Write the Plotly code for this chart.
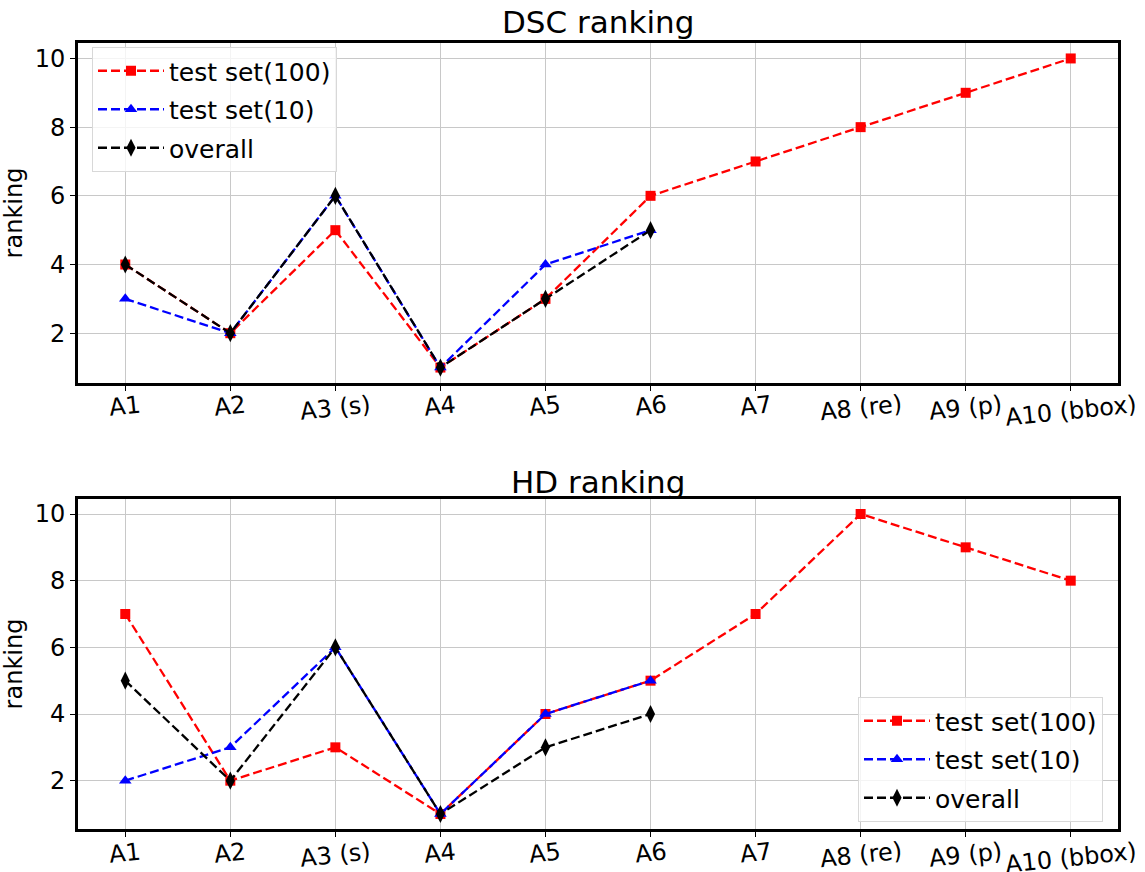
import plotly.graph_objects as go

categories = ["A1", "A2", "A3 (s)", "A4", "A5", "A6", "A7", "A8 (re)", "A9 (p)", "A10 (bbox)"]

dsc_test100 = [4, 2, 5, 1, 3, 6, 7, 8, 9, 10]
dsc_test10 = [3, 2, 6, 1, 4, 5]
dsc_overall = [4, 2, 6, 1, 3, 5]

hd_test100 = [7, 2, 3, 1, 4, 5, 7, 10, 9, 8]
hd_test10 = [2, 3, 6, 1, 4, 5]
hd_overall = [5, 2, 6, 1, 3, 4]

yticks = [2, 4, 6, 8, 10]

FONT = "DejaVu Sans"
W, H = 1145, 872
fig = go.Figure()

series = [
    ("test set(100)", "red", "square", 10),
    ("test set(10)", "blue", "triangle-up", 11),
    ("overall", "black", "diamond-tall", 13),
]

def add_panel(vals, xa, ya, legend, tag):
    for (name, color, sym, ms), v in zip(series, vals):
        fig.add_trace(go.Scatter(
            x=list(range(len(v))), y=v, name=name, mode="lines+markers",
            line=dict(color=color, width=2.3, dash="9px,4px"),
            marker=dict(symbol=sym, size=ms, color=color),
            xaxis=xa, yaxis=ya, legend=legend, legendgroup=tag + name,
        ))

add_panel([dsc_test100, dsc_test10, dsc_overall], "x", "y", "legend", "dsc")
add_panel([hd_test100, hd_test10, hd_overall], "x2", "y2", "legend2", "hd")

xdom = [78 / W, 1118 / W]
axis_common = dict(
    showline=True, mirror=True, linecolor="black", linewidth=3,
    showgrid=True, gridcolor="#c8c8c8", gridwidth=1,
    ticks="outside", ticklen=5, tickcolor="black", tickwidth=1,
    tickfont=dict(family=FONT, size=24, color="black"),
    zeroline=False, automargin=False,
)
xcommon = dict(axis_common, range=[-0.45, 9.45], tickmode="array",
               tickvals=list(range(len(categories))), showticklabels=False)
ycommon = dict(axis_common, range=[0.55, 10.45], tickmode="array", tickvals=yticks,
               title=dict(text="ranking", font=dict(family=FONT, size=24, color="black"), standoff=6))

legend_common = dict(
    font=dict(family=FONT, size=25, color="black"),
    bgcolor="rgba(255,255,255,0.8)", bordercolor="#d8d8d8", borderwidth=1,
    xanchor="left", yanchor="top", tracegroupgap=3, itemwidth=66,
    traceorder="grouped",
)

annotations = [
    dict(text="DSC ranking", x=598 / W, y=1 - 22 / H, xref="paper", yref="paper",
         xanchor="center", yanchor="middle",
         showarrow=False, font=dict(family=FONT, size=31, color="black")),
    dict(text="HD ranking", x=598 / W, y=1 - 482 / H, xref="paper", yref="paper",
         xanchor="center", yanchor="middle",
         showarrow=False, font=dict(family=FONT, size=31, color="black")),
]
# rotated category tick labels, centred under each tick as in the original
for xref, ytop in (("x", 388), ("x2", 835)):
    for i, lab in enumerate(categories):
        annotations.append(dict(
            text=lab, x=i, xref=xref, y=1 - ytop / H, yref="paper",
            xanchor="center", yanchor="top", textangle=-6, showarrow=False,
            font=dict(family=FONT, size=24, color="black"),
        ))

fig.update_layout(
    width=W, height=H,
    margin=dict(l=0, r=0, t=0, b=0),
    paper_bgcolor="white", plot_bgcolor="white",
    font=dict(family=FONT, color="black"),
    xaxis=dict(xcommon, domain=xdom, anchor="y"),
    yaxis=dict(ycommon, domain=[1 - 383 / H, 1 - 43 / H], anchor="x"),
    xaxis2=dict(xcommon, domain=xdom, anchor="y2"),
    yaxis2=dict(ycommon, domain=[1 - 829 / H, 1 - 499 / H], anchor="x2"),
    legend=dict(legend_common, x=92 / W, y=1 - 47 / H),
    legend2=dict(legend_common, x=858 / W, y=1 - 697 / H),
    annotations=annotations,
)

fig.write_html("out.html", config={"displayModeBar": False},
               post_script="document.body.style.margin='0';")
